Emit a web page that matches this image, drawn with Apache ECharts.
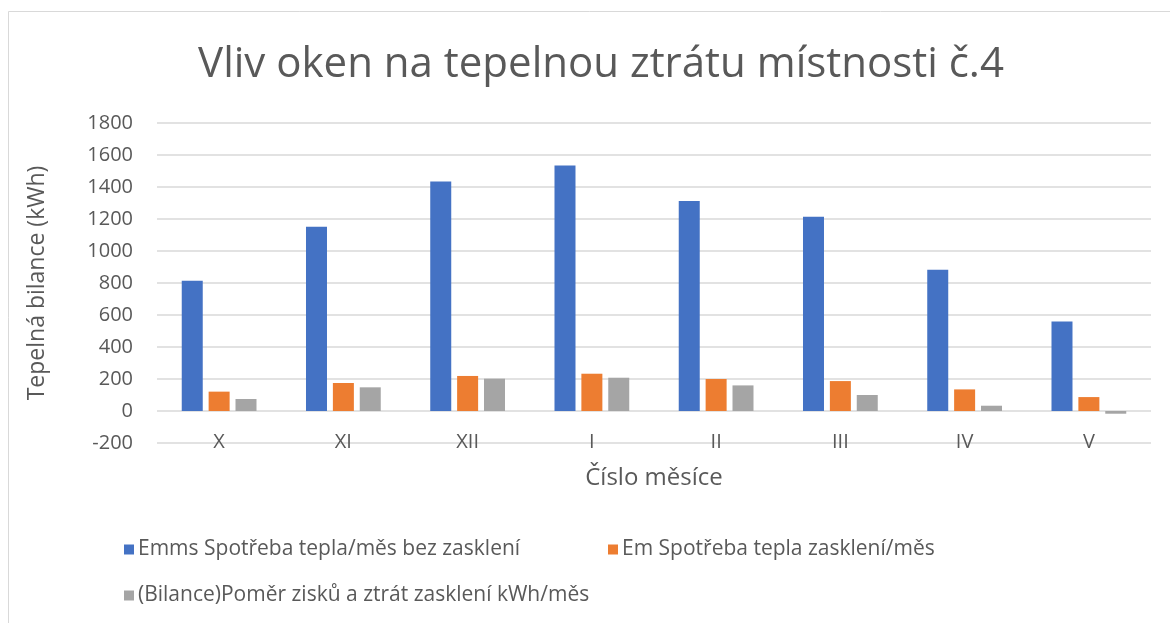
<!DOCTYPE html>
<html>
<head>
<meta charset="utf-8">
<script src="https://cdn.jsdelivr.net/npm/echarts@6/dist/echarts.min.js"></script>
<style>
  html, body { margin: 0; padding: 0; background: #fff; }
  #chart { width: 1170px; height: 623px; }
</style>
</head>
<body>
<div id="chart"></div>
<script>
var months = ['X', 'XI', 'XII', 'I', 'II', 'III', 'IV', 'V'];
var seriesNames = [
    'Emms Spotřeba tepla/měs bez zasklení',
    'Em Spotřeba tepla zasklení/měs',
    '(Bilance)Poměr zisků a ztrát zasklení kWh/měs'
];
var emmsValues = [814, 1152, 1435, 1535, 1312, 1214, 883, 560];
var emValues = [121, 175, 219, 233, 200, 187, 135, 87];
var bilanceValues = [75, 148, 202, 208, 160, 100, 33, -17];
var colors = ['#4472C4', '#ED7D31', '#A5A5A5'];

var font = 'Open Sans';
var textColor = '#595959';

var chart = echarts.init(document.getElementById('chart'));

function legendFor(name, left, top) {
    return {
        data: [name],
        left: left,
        top: top,
        icon: 'rect',
        itemWidth: 10,
        itemHeight: 10,
        itemGap: 0,
        padding: 0,
        textStyle: { fontFamily: font, fontSize: 21, color: textColor, padding: [0, 0, 0, -1] }
    };
}

var option = {
    animation: false,
    backgroundColor: '#fff',
    color: colors,
    title: {
        text: 'Vliv oken na tepelnou ztrátu místnosti č.4',
        left: 596,
        textAlign: 'center',
        top: 39,
        textStyle: { fontFamily: font, fontSize: 42, fontWeight: 'normal', color: textColor }
    },
    graphic: [{
        type: 'rect',
        shape: { x: 8.5, y: 11.5, width: 1200, height: 700 },
        style: { fill: 'none', stroke: '#D9D9D9', lineWidth: 1 },
        silent: true
    }],
    legend: [
        legendFor(seriesNames[0], 124, 539),
        legendFor(seriesNames[1], 608, 539),
        legendFor(seriesNames[2], 124, 585)
    ],
    grid: { left: 157, right: 19, top: 123, height: 320 },
    xAxis: {
        type: 'category',
        data: months,
        name: 'Číslo měsíce',
        nameLocation: 'middle',
        nameGap: 23,
        nameTextStyle: { fontFamily: font, fontSize: 24, color: textColor },
        axisLine: { show: false, onZero: false },
        axisTick: { show: false },
        axisLabel: {
            fontFamily: font, fontSize: 20, color: textColor,
            margin: -11
        }
    },
    yAxis: {
        type: 'value',
        min: -200,
        max: 1800,
        interval: 200,
        name: 'Tepelná bilance (kWh)',
        nameLocation: 'middle',
        nameGap: 108,
        nameTextStyle: { fontFamily: font, fontSize: 23, color: textColor },
        axisLine: { show: false },
        axisTick: { show: false },
        axisLabel: {
            fontFamily: font, fontSize: 20, color: textColor, margin: 24,
            formatter: function (v) { return String(v); }
        },
        splitLine: { lineStyle: { color: '#D9D9D9', width: 1.5 } }
    },
    series: [
        { name: seriesNames[0], type: 'bar', data: emmsValues, barWidth: 21, barGap: '28%' },
        { name: seriesNames[1], type: 'bar', data: emValues, barWidth: 21, barGap: '28%' },
        { name: seriesNames[2], type: 'bar', data: bilanceValues, barWidth: 21, barGap: '28%' }
    ]
};

chart.setOption(option);
</script>
</body>
</html>
